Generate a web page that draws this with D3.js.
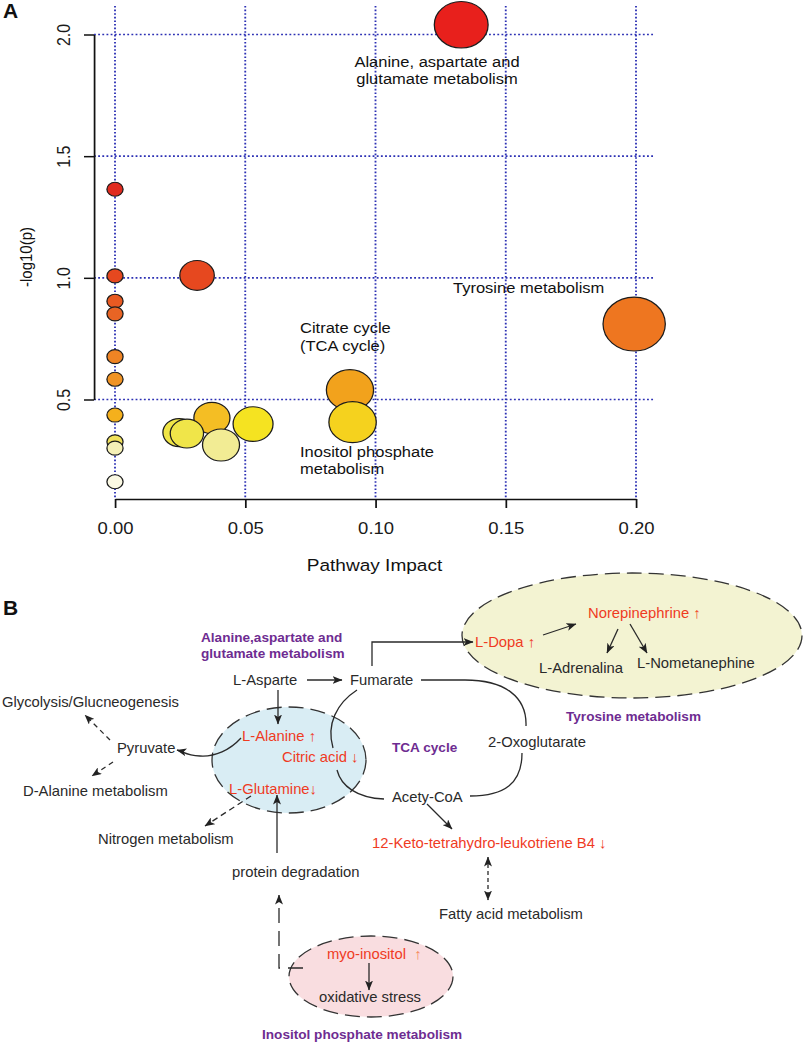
<!DOCTYPE html>
<html><head><meta charset="utf-8">
<script src="https://cdn.jsdelivr.net/npm/d3@7"></script>
<style>html,body{margin:0;padding:0;background:#fff;} svg{display:block;}</style>
</head><body><svg id="c" width="803" height="1043"></svg>
<script>
// ---------- DATA (panel A) ----------
const xTicks = [0, 0.05, 0.10, 0.15, 0.20];
const yTicks = [0.5, 1.0, 1.5, 2.0];
const xTitle = "Pathway Impact";
const yTitle = "-log10(p)";
// pathways, ordered by -log10(p) descending (drawing order)
const impact  = [0.1329, 0, 0.0315, 0, 0, 0, 0.1993, 0, 0, 0.0902, 0, 0.0372, 0.0912, 0.053, 0.0246, 0.0276, 0, 0.0407, 0, 0];
const negLogP = [2.040, 1.364, 1.010, 1.008, 0.904, 0.852, 0.810, 0.676, 0.583, 0.539, 0.436, 0.424, 0.407, 0.399, 0.364, 0.360, 0.326, 0.313, 0.300, 0.162];
const colorDomain = [0.162,0.300,0.313,0.326,0.362,0.399,0.407,0.424,0.436,0.539,0.583,0.676,0.81,0.852,0.904,1.01,1.364,2.04];
const colorRange  = ["#fbf9e4","#f5f0b6","#f2ec94","#efe05a","#f0e548","#f5e321","#f5d21e","#f4be24","#f5b01c","#f2a21c","#f09324","#ef8424","#ee7620","#e86424","#e85a22","#e6481f","#e02b1f","#e8201c"];
const labelLines = [["Alanine, aspartate and","glutamate metabolism"],["Tyrosine metabolism"],["Citrate cycle","(TCA cycle)"],["Inositol phosphate","metabolism"]];
const labelLayout = [{x:437,y:62,anchor:"middle"},{x:453,y:288,anchor:"start"},{x:300,y:328,anchor:"start"},{x:300,y:452,anchor:"start"}];

// ---------- DATA (panel B) ----------
const nodeTexts = [
 "Alanine,aspartate and","glutamate metabolism","L-Asparte","Fumarate","Glycolysis/Glucneogenesis","Pyruvate",
 "D-Alanine metabolism","L-Alanine ↑","Citric acid ↓","L-Glutamine↓","TCA cycle","2-Oxoglutarate","Acety-CoA",
 "Nitrogen metabolism","12-Keto-tetrahydro-leukotriene B4 ↓","protein degradation","Fatty acid metabolism",
 "myo-inositol","oxidative stress","Inositol phosphate metabolism","L-Dopa ↑","Norepinephrine ↑","L-Adrenalina",
 "L-Nometanephine","Tyrosine metabolism"];
const nodeKind = ["p","p","k","k","k","k","k","r","r","r","p","k","k","k","r","k","k","r","k","p","r","r","k","k","p"];
const nodeLayout = [[201,637],[201,653],[233,680],[350,680],[2,702],[117,748],[23,791],[242,736],[282,757],[229,789],
 [392,747],[488,742],[392,797],[98,839],[372,843],[232,872],[439,914],[327,954],[319,997],[262,1034],[475,642],[588,613],
 [539,668],[637,663],[566,716]];

const SX = 1.155;
const FONT = "'Liberation Sans', Arial, Helvetica, sans-serif";
const svg = d3.select("#c");
svg.append("rect").attr("width",803).attr("height",1043).attr("fill","#fff");

// ---------- PANEL A ----------
const gA = svg.append("g").attr("transform",`scale(${SX},1)`).attr("font-family",FONT);
const x = d3.scaleLinear().domain([0,0.2]).range([115/SX, 636/SX]);
const y = d3.scaleLinear().domain([0.5,2.0]).range([399.5, 34.5]);
const r = d3.scaleSqrt().domain([0,0.2]).range([7,27]);
const color = d3.scaleLinear().domain(colorDomain).range(colorRange);

const gridStroke = "#2c30b4";
gA.append("g").selectAll("line").data(xTicks).join("line")
  .attr("x1",d=>x(d)).attr("x2",d=>x(d)).attr("y1",6).attr("y2",499)
  .attr("stroke",gridStroke).attr("stroke-width",1.6).attr("stroke-dasharray","1.6,2");
gA.append("g").selectAll("line").data(yTicks).join("line")
  .attr("x1",94/SX).attr("x2",655/SX).attr("y1",d=>y(d)).attr("y2",d=>y(d))
  .attr("stroke",gridStroke).attr("stroke-width",1.6).attr("stroke-dasharray","1.6,2");

const yAxis = d3.axisLeft(y).tickValues(yTicks).tickFormat(d3.format(".1f")).tickSize(10/SX).tickSizeOuter(0);
const gy = gA.append("g").attr("transform",`translate(${94/SX},0)`).call(yAxis);
gy.attr("font-family",FONT).attr("font-size",16);
gy.select(".domain").attr("stroke","#111").attr("stroke-width",1.5);
gy.selectAll(".tick line").attr("stroke","#111").attr("stroke-width",1.5);
gy.selectAll(".tick text").attr("x",0).attr("y",-(94-64)/SX).attr("dy","0.35em")
  .attr("text-anchor","middle").attr("transform","rotate(-90)").attr("fill","#1a1a1a");

const xAxis = d3.axisBottom(x).tickValues(xTicks).tickFormat(d3.format(".2f")).tickSize(9).tickSizeOuter(0);
const gx = gA.append("g").attr("transform","translate(0,499)").call(xAxis);
gx.attr("font-family",FONT).attr("font-size",16);
gx.select(".domain").attr("stroke","#111").attr("stroke-width",1.5);
gx.selectAll(".tick line").attr("stroke","#111").attr("stroke-width",1.5);
gx.selectAll(".tick text").attr("y",29).attr("dy","0.35em").attr("fill","#1a1a1a");

const bubbles = impact.map((d,i)=>({impact:d, p:negLogP[i]}));
gA.append("g").selectAll("circle").data(bubbles).join("circle")
  .attr("cx",d=>x(d.impact)).attr("cy",d=>y(d.p)).attr("r",d=>r(d.impact))
  .attr("fill",d=>color(d.p)).attr("stroke","#1c1c1c").attr("stroke-width",1.1);

labelLines.forEach((lines,i)=>{
  const L = labelLayout[i];
  const t = gA.append("text").attr("font-size",14.3).attr("fill","#111").attr("text-anchor",L.anchor);
  lines.forEach((s,j)=>t.append("tspan").attr("x",L.x/SX).attr("y",L.y+j*17.5).attr("dy","0.35em").text(s));
});

gA.append("text").attr("x",374.5/SX).attr("y",565).attr("dy","0.35em").attr("text-anchor","middle")
  .attr("font-size",16.5).attr("fill","#111").text(xTitle);
gA.append("text").attr("transform",`translate(${26/SX},257) rotate(-90)`).attr("dy","0.35em").attr("text-anchor","middle")
  .attr("font-size",15).attr("fill","#111").text(yTitle);

svg.append("text").attr("x",3).attr("y",18).attr("font-family",FONT).attr("font-weight","bold").attr("font-size",21).attr("fill","#111").text("A");
svg.append("text").attr("x",3).attr("y",615).attr("font-family",FONT).attr("font-weight","bold").attr("font-size",21).attr("fill","#111").text("B");

// ---------- PANEL B ----------
const gB = svg.append("g").attr("font-family",FONT);
const defs = svg.append("defs");
defs.append("marker").attr("id","ah").attr("viewBox","0 0 10 8").attr("refX",9.5).attr("refY",4)
  .attr("markerWidth",10).attr("markerHeight",8).attr("markerUnits","userSpaceOnUse").attr("orient","auto-start-reverse")
  .append("path").attr("d","M0,0 L10,4 L0,8 L2.5,4 Z").attr("fill","#222");

const ellipses = [
  {cx:632, cy:635.5, rx:170, ry:62.5, fill:"#f3f3d2"},
  {cx:289, cy:760, rx:77, ry:53, fill:"#d9edf4"},
  {cx:371, cy:976.5, rx:82, ry:40.5, fill:"#f9dde0"}
];
gB.append("g").selectAll("ellipse").data(ellipses).join("ellipse")
  .attr("cx",d=>d.cx).attr("cy",d=>d.cy).attr("rx",d=>d.rx).attr("ry",d=>d.ry)
  .attr("fill",d=>d.fill).attr("stroke","#333").attr("stroke-width",1.3).attr("stroke-dasharray","15,7");

const solidPaths = [
  {d:"M307,680 H342", a:"end"},
  {d:"M278,690 V724", a:"end"},
  {d:"M372,666 V642 H473", a:"end"},
  {d:"M421,680 L465,680 C505,680 527,697 526,726", a:null},
  {d:"M522,753 C522,783 505,796 470,796", a:null},
  {d:"M357,690 C337,703 326,724 333,748", a:null},
  {d:"M337,770 C341,786 357,798 384,799", a:null},
  {d:"M241,738 C230,750 215,757 200,756 S185,752 177,750", a:"end"},
  {d:"M427,804 L452,829", a:"end"},
  {d:"M277,853 V795", a:"end"},
  {d:"M543,635 L576,624", a:"end"},
  {d:"M618,629 L607,653", a:"end"},
  {d:"M630,624 L647,653", a:"end"},
  {d:"M369,963 V990", a:"end"}
];
gB.append("g").selectAll("path").data(solidPaths).join("path")
  .attr("d",d=>d.d).attr("fill","none").attr("stroke","#2a2a2a").attr("stroke-width",1.3)
  .attr("marker-end",d=>d.a?"url(#ah)":null);

const dashedPaths = [
  {d:"M110,740 L85,715", both:false, dash:"5,4"},
  {d:"M113,762 L92,776", both:false, dash:"5,4"},
  {d:"M251,796 L205,826", both:false, dash:"6,4"},
  {d:"M488,857 L488,900", both:true, dash:"4,3"},
  {d:"M303,968 H279 V895", both:false, dash:"15,8"}
];
gB.append("g").selectAll("path").data(dashedPaths).join("path")
  .attr("d",d=>d.d).attr("fill","none").attr("stroke","#2a2a2a").attr("stroke-width",1.3)
  .attr("stroke-dasharray",d=>d.dash)
  .attr("marker-end","url(#ah)").attr("marker-start",d=>d.both?"url(#ah)":null);

const kindStyle = {
  k:{fill:"#2a2a2a", size:14.8, weight:"normal"},
  r:{fill:"#ef3b1f", size:14.8, weight:"normal"},
  p:{fill:"#6e2c91", size:13.6, weight:"bold"}
};
nodeTexts.forEach((s,i)=>{
  const st = kindStyle[nodeKind[i]];
  const t = gB.append("text").attr("x",nodeLayout[i][0]).attr("y",nodeLayout[i][1]).attr("dy","0.35em")
    .attr("font-size",st.size).attr("font-weight",st.weight).attr("fill",st.fill).text(s);
  if (s === "myo-inositol") t.append("tspan").attr("fill","#f5875a").text("\u00a0\u00a0↑");
});
</script>
</body></html>
